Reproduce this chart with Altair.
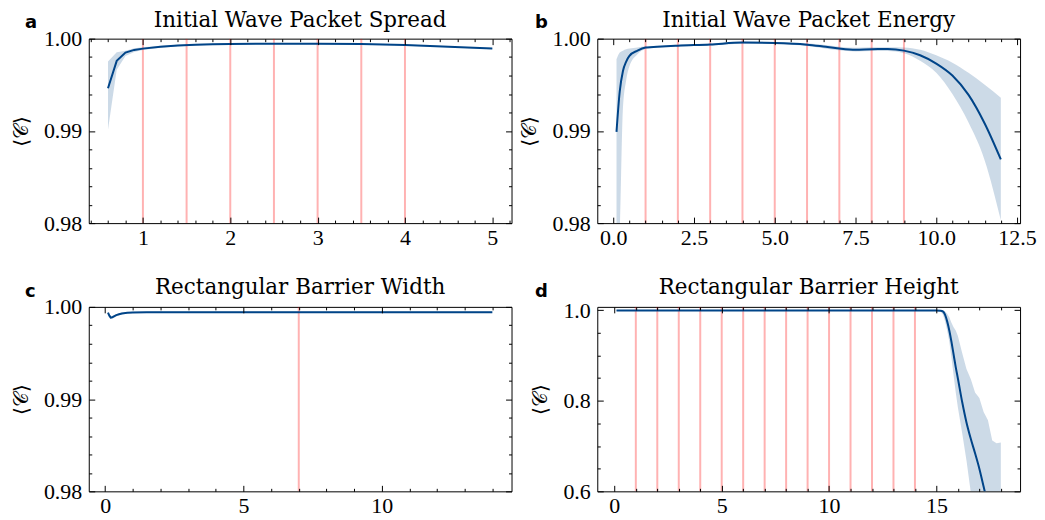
import altair as alt
import pandas as pd

# ---------------- data ----------------
# a: Initial Wave Packet Spread
xa = [0.6, 0.7, 0.8, 0.9, 1.0, 1.2, 1.4, 1.6, 1.8, 2.0, 2.5, 3.0, 3.5, 4.0, 4.5, 5.0]
ya = [0.99463, 0.99759, 0.99849, 0.99878, 0.99892, 0.99912, 0.99926, 0.99935, 0.99940, 0.99943,
      0.99946, 0.99946, 0.99943, 0.99930, 0.99912, 0.99892]
lo_a = [0.99013, 0.99662, 0.99813, 0.99856, 0.99878, 0.99901, 0.99917, 0.99927, 0.99933, 0.99936,
        0.99940, 0.99940, 0.99937, 0.99924, 0.99906, 0.99886]
hi_a = [0.99751, 0.99852, 0.99870, 0.99895, 0.99908, 0.99923, 0.99935, 0.99943, 0.99947, 0.99950,
        0.99952, 0.99952, 0.99949, 0.99936, 0.99918, 0.99898]
red_a = [1.0, 1.5, 2.0, 2.5, 3.0, 3.5, 4.0]

# b: Initial Wave Packet Energy
xb = [0.1, 0.2, 0.3, 0.4, 0.5, 0.75, 1.0, 1.5, 2.0, 3.0, 4.0, 5.0, 6.0, 6.5, 7.0, 7.5, 8.0, 8.5,
      9.0, 9.5, 10.0, 10.5, 11.0, 11.5, 12.0]
yb = [0.98990, 0.99427, 0.99650, 0.99751, 0.99813, 0.99870, 0.99903, 0.99915, 0.99924, 0.99937,
      0.99957, 0.99953, 0.99935, 0.99915, 0.99893, 0.99881, 0.99886, 0.99887, 0.99870, 0.99820,
      0.99730, 0.99600, 0.99390, 0.99080, 0.98690]
lo_b = [0.97000, 0.97900, 0.99250, 0.99550, 0.99700, 0.99830, 0.99888, 0.99906, 0.99914, 0.99927,
        0.99946, 0.99941, 0.99920, 0.99897, 0.99873, 0.99860, 0.99866, 0.99866, 0.99841, 0.99760,
        0.99630, 0.99400, 0.99090, 0.98680, 0.98030]
hi_b = [0.99776, 0.99849, 0.99870, 0.99885, 0.99892, 0.99903, 0.99917, 0.99924, 0.99934, 0.99947,
        0.99968, 0.99965, 0.99950, 0.99933, 0.99913, 0.99902, 0.99906, 0.99908, 0.99905, 0.99880,
        0.99820, 0.99740, 0.99630, 0.99500, 0.99360]
red_b = [1, 2, 3, 4, 5, 6, 7, 8, 9]

# c: Rectangular Barrier Width
xc = [0.1, 0.15, 0.2, 0.25, 0.3, 0.4, 0.5, 0.6, 0.8, 1.0, 1.5, 2.0, 4.0, 6.0, 8.0, 10.0, 12.0, 14.0]
yc = [0.99938, 0.99905, 0.99884, 0.99886, 0.99895, 0.99910, 0.99920, 0.99928, 0.99936, 0.99940,
      0.99942, 0.99943, 0.99943, 0.99943, 0.99943, 0.99943, 0.99943, 0.99943]
lo_c = [0.99930, 0.99890, 0.99868, 0.99870, 0.99880, 0.99897, 0.99908, 0.99918, 0.99928, 0.99933,
        0.99936, 0.99937, 0.99937, 0.99937, 0.99937, 0.99937, 0.99937, 0.99937]
hi_c = [0.99944, 0.99916, 0.99898, 0.99900, 0.99908, 0.99921, 0.99930, 0.99937, 0.99943, 0.99946,
        0.99948, 0.99949, 0.99949, 0.99949, 0.99949, 0.99949, 0.99949, 0.99949]
red_c = [7]

# d: Rectangular Barrier Height
xd = [0.1, 1, 2, 3, 4, 5, 6, 7, 8, 9, 10, 11, 12, 13, 14, 15,
      15.2, 15.3, 15.4, 15.5, 15.6, 15.7, 15.8, 15.9, 16.0, 16.2, 16.4, 16.6, 16.8, 17.0,
      17.2, 17.4, 17.6, 17.8, 18.0]
yd = [0.999, 0.999, 0.999, 0.999, 0.999, 0.999, 0.999, 0.999, 0.999, 0.999, 0.999, 0.999,
      0.999, 0.999, 0.999, 0.999,
      0.9985, 0.997, 0.990, 0.975, 0.955, 0.930, 0.902, 0.874, 0.849, 0.797, 0.752, 0.716,
      0.684, 0.650, 0.610, 0.570, 0.530, 0.490, 0.450]
lo_d = [0.998, 0.998, 0.998, 0.998, 0.998, 0.998, 0.998, 0.998, 0.998, 0.998, 0.998, 0.998,
        0.998, 0.998, 0.998, 0.998,
        0.996, 0.990, 0.975, 0.955, 0.930, 0.895, 0.856, 0.818, 0.785, 0.728, 0.668, 0.598,
        0.540, 0.490, 0.450, 0.410, 0.370, 0.330, 0.300]
hi_d = [1.000, 1.000, 1.000, 1.000, 1.000, 1.000, 1.000, 1.000, 1.000, 1.000, 1.000, 1.000,
        1.000, 1.000, 1.000, 1.000,
        1.000, 0.999, 0.997, 0.992, 0.984, 0.972, 0.962, 0.955, 0.943, 0.905, 0.870, 0.848,
        0.818, 0.806, 0.775, 0.757, 0.712, 0.706, 0.708]
red_d = [1, 2, 3, 4, 5, 6, 7, 8, 9, 10, 11, 12, 13, 14]

titles = ["Initial Wave Packet Spread", "Initial Wave Packet Energy",
          "Rectangular Barrier Width", "Rectangular Barrier Height"]
letters = ["a", "b", "c", "d"]
ytitle = "⟨𝒞⟩"

# tick values
xmaj_a = [1, 2, 3, 4, 5]
xmin_a = [0.4, 0.6, 0.8, 1.2, 1.4, 1.6, 1.8, 2.2, 2.4, 2.6, 2.8, 3.2, 3.4, 3.6, 3.8,
          4.2, 4.4, 4.6, 4.8, 5.2]
xmaj_b = [0, 2.5, 5, 7.5, 10, 12.5]
xmin_b = [0.5, 1, 1.5, 2, 3, 3.5, 4, 4.5, 5.5, 6, 6.5, 7, 8, 8.5, 9, 9.5, 10.5, 11, 11.5, 12]
xmaj_c = [0, 5, 10]
xmin_c = [1, 2, 3, 4, 6, 7, 8, 9, 11, 12, 13, 14]
xmaj_d = [0, 5, 10, 15]
xmin_d = [1, 2, 3, 4, 6, 7, 8, 9, 11, 12, 13, 14, 16, 17, 18]
ymaj_s = [0.98, 0.99, 1.00]
ymin_s = [0.982, 0.984, 0.986, 0.988, 0.992, 0.994, 0.996, 0.998]
ymaj_d = [0.6, 0.8, 1.0]
ymin_d = [0.65, 0.7, 0.75, 0.85, 0.9, 0.95]

# ---------------- style ----------------
BLUE = "#004488"
SERIF = "Liberation Serif"
TITLE_FONT = "DejaVu Serif"
W, H = 424, 185
MAJ, MIN = 6, 3


def axis(orient, values, size, labels=False, fmt=None, title=None, pad=7):
    kw = dict(orient=orient, values=values, tickSize=size, offset=-size, domain=False,
              grid=False, ticks=True, tickColor="black", tickWidth=1, labels=labels,
              zindex=1, title=title)
    if labels:
        kw.update(labelFont=SERIF, labelFontSize=22, labelColor="black", labelPadding=pad,
                  labelFlush=False, labelOverlap=False, format=fmt)
    if title:
        kw.update(titleFont="DejaVu Serif", titleFontSize=20, titleFontWeight="normal",
                  titleColor="black", titlePadding=12)
    return alt.Axis(**kw)


def panel(x, y, lo, hi, reds, xdom, ydom, xmaj, xmin, ymaj, ymin, xfmt, yfmt,
          title, letter, letter_x, letter_y, title_y, interp_line, interp_band):
    df = pd.DataFrame({"x": x, "y": y, "lo": lo, "hi": hi})
    xs = alt.Scale(domain=xdom, nice=False, zero=False)
    ys = alt.Scale(domain=ydom, nice=False, zero=False)
    band = alt.Chart(df).mark_area(color=BLUE, opacity=0.2, clip=True,
                                   interpolate=interp_band).encode(
        x=alt.X("x:Q", scale=xs, axis=axis("bottom", xmaj, MAJ, labels=True, fmt=xfmt,
                                            pad=4.5)),
        y=alt.Y("lo:Q", scale=ys, axis=axis("left", ymaj, MAJ, labels=True, fmt=yfmt,
                                             title=ytitle, pad=7)),
        y2="hi:Q")
    red = alt.Chart(pd.DataFrame({"v": reds})).mark_rule(
        color="#ff0000", opacity=0.3, strokeWidth=2, clip=True).encode(
        x=alt.X("v:Q", scale=xs, axis=axis("top", xmaj, MAJ)))
    line = alt.Chart(df).mark_line(color=BLUE, strokeWidth=2, clip=True,
                                   interpolate=interp_line).encode(
        x=alt.X("x:Q", scale=xs, axis=axis("bottom", xmin, MIN)),
        y=alt.Y("y:Q", scale=ys, axis=axis("right", ymaj, MAJ)))
    hid1 = alt.Chart(df).mark_point(opacity=0, clip=True).encode(
        x=alt.X("x:Q", scale=xs, axis=axis("top", xmin, MIN)),
        y=alt.Y("y:Q", scale=ys, axis=axis("left", ymin, MIN)))
    hid2 = alt.Chart(df).mark_point(opacity=0, clip=True).encode(
        x=alt.X("x:Q", scale=xs, axis=None),
        y=alt.Y("y:Q", scale=ys, axis=axis("right", ymin, MIN)))
    ttl = alt.Chart(pd.DataFrame({"t": [title]})).mark_text(
        font=TITLE_FONT, fontSize=21.5, align="center", baseline="alphabetic",
        color="black").encode(
        text="t:N", x=alt.value(W / 2), y=alt.value(title_y))
    let = alt.Chart(pd.DataFrame({"t": [letter]})).mark_text(
        font="DejaVu Sans", fontSize=18, fontWeight="bold", align="left",
        baseline="alphabetic", color="black").encode(
        text="t:N", x=alt.value(letter_x), y=alt.value(letter_y))
    return alt.layer(band, red, line, hid1, hid2, ttl, let).resolve_axis(
        x="independent", y="independent").properties(width=W, height=H)


pa = panel(xa, ya, lo_a, hi_a, red_a, [0.38, 5.22], [0.98, 1.0], xmaj_a, xmin_a,
           ymaj_s, ymin_s, "d", ".2f", titles[0], letters[0], -64, -11, -12,
           "linear", "linear")
pb = panel(xb, yb, lo_b, hi_b, red_b, [-0.495, 12.595], [0.98, 1.0], xmaj_b, xmin_b,
           ymaj_s, ymin_s, ".1f", ".2f", titles[1], letters[1], -62.5, -11, -12,
           "monotone", "monotone")
pc = panel(xc, yc, lo_c, hi_c, red_c, [-0.595, 14.695], [0.98, 1.0], xmaj_c, xmin_c,
           ymaj_s, ymin_s, "d", ".2f", titles[2], letters[2], -64, -9.5, -12.5,
           "linear", "linear")
pd_ = panel(xd, yd, lo_d, hi_d, red_d, [-0.795, 18.895], [0.6, 1.007], xmaj_d, xmin_d,
            ymaj_d, ymin_d, "d", ".1f", titles[3], letters[3], -62.5, -9.5, -12.5,
            "monotone", "linear")

chart = alt.concat(pa, pb, pc, pd_, columns=2, spacing={"row": 84, "column": 86},
                   bounds="flush").configure_view(
    stroke="black", strokeWidth=1).properties(
    padding={"left": 3, "top": 0, "right": 0, "bottom": 0})

chart.save("out.html", embed_options={"renderer": "svg", "actions": False})
